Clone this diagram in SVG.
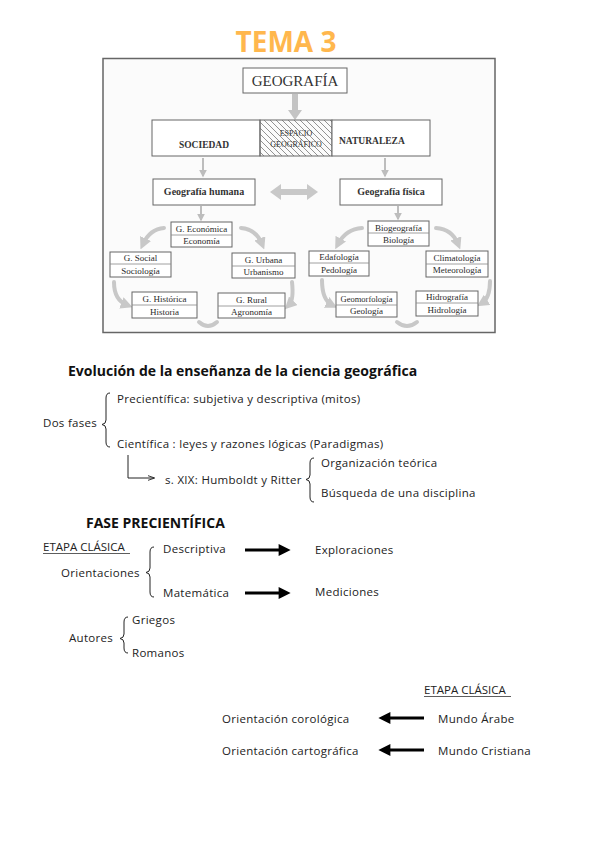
<svg xmlns="http://www.w3.org/2000/svg" width="599" height="848" viewBox="0 0 599 848">
<defs>
<style>
.t{font-family:"Open Sans","Noto Sans","DejaVu Sans",sans-serif;font-size:11.5px;letter-spacing:0.3px;fill:#222}
.tb{font-family:"Open Sans","Noto Sans","DejaVu Sans",sans-serif;font-weight:bold;fill:#111}
.s{font-family:"Liberation Serif","DejaVu Serif",serif;fill:#333}
.m{font-size:9px;fill:#2a2a2a}
.bx{fill:#fff;stroke:#666;stroke-width:1}
.dv{stroke:#888;stroke-width:0.8}
.ga{fill:none;stroke:#c8c8c8;stroke-width:4;stroke-linecap:round}
.gt{fill:none;stroke:#bdbdbd;stroke-width:2}
.br{fill:none;stroke:#222;stroke-width:1}
.ba{stroke:#000;stroke-width:3}
.u{stroke:#333;stroke-width:0.8}
</style>
<pattern id="hatch" patternUnits="userSpaceOnUse" width="6" height="6">
<path d="M0,0 L6,6 M-1,5 L1,7 M5,-1 L7,1" stroke="#777" stroke-width="0.8"/>
</pattern>
<marker id="gh" viewBox="0 0 10 10" refX="5" refY="5" markerWidth="3" markerHeight="3" orient="auto">
<path d="M0,0 L10,5 L0,10 z" fill="#c8c8c8"/>
</marker>
<marker id="gth" viewBox="0 0 10 10" refX="8" refY="5" markerWidth="4" markerHeight="4" orient="auto">
<path d="M0,0 L10,5 L0,10 z" fill="#bdbdbd"/>
</marker>
<marker id="kh" viewBox="0 0 10 10" refX="2" refY="5" markerWidth="4.5" markerHeight="4" orient="auto">
<path d="M0,0 L10,5 L0,10 z" fill="#000"/>
</marker>
<marker id="lh" viewBox="0 0 10 10" refX="9" refY="5" markerWidth="7" markerHeight="7" orient="auto" markerUnits="userSpaceOnUse">
<path d="M0,1.5 L10,5 L0,8.5" fill="none" stroke="#222" stroke-width="1.3"/>
</marker>
</defs>
<rect width="599" height="848" fill="#fff"/>

<g id="title">
<text x="286" y="52" text-anchor="middle" class="tb" style="font-size:28px;fill:#ffb74d">TEMA 3</text>
</g>

<g id="photo">
<rect x="103" y="58.5" width="392" height="274" fill="#fbfbfb" stroke="#666" stroke-width="1.5"/>
</g>

<g id="connectors">
<polygon points="292,94 298,94 298,110 302,110 295,120 288,110 292,110" fill="#c4c4c4"/>
<line x1="203" y1="158" x2="203" y2="176" class="gt" marker-end="url(#gth)"/>
<line x1="385" y1="158" x2="385" y2="176" class="gt" marker-end="url(#gth)"/>
<line x1="201" y1="206" x2="201" y2="220" class="gt" marker-end="url(#gth)"/>
<line x1="398" y1="206" x2="398" y2="219" class="gt" marker-end="url(#gth)"/>
<polygon points="270,192 281,184 281,189 307,189 307,184 318,192 307,200 307,195 281,195 281,200" fill="#c8c8c8"/>
<path d="M164,228 Q150,229 143,244" class="ga" marker-end="url(#gh)"/>
<path d="M241,228 Q256,229 262,244" class="ga" marker-end="url(#gh)"/>
<path d="M114,282 Q114,300 127,305" class="ga" marker-end="url(#gh)"/>
<path d="M292,282 Q294,300 289,305" class="ga" marker-end="url(#gh)"/>
<path d="M199,322 Q208,330 217,322" class="ga"/>
<path d="M362,228 Q346,229 338,244" class="ga" marker-end="url(#gh)"/>
<path d="M436,228 Q452,229 458,244" class="ga" marker-end="url(#gh)"/>
<path d="M322,280 Q322,300 332,305" class="ga" marker-end="url(#gh)"/>
<path d="M490,281 Q490,298 482,303" class="ga" marker-end="url(#gh)"/>
<path d="M397,322 Q407,330 417,322" class="ga"/>
<path d="M128,455 L128,478 L154,478" class="br" marker-end="url(#lh)"/>
<line x1="245" y1="550" x2="281" y2="550" class="ba" marker-end="url(#kh)"/>
<line x1="245" y1="593" x2="281" y2="593" class="ba" marker-end="url(#kh)"/>
<line x1="424" y1="718" x2="388" y2="718" class="ba" marker-end="url(#kh)"/>
<line x1="424" y1="750" x2="388" y2="750" class="ba" marker-end="url(#kh)"/>
</g>

<g id="geografia">
<rect x="243" y="68" width="104" height="25" class="bx"/>
<text x="295" y="86" text-anchor="middle" class="s" style="font-size:15px">GEOGRAFÍA</text>
</g>
<g id="sociedad">
<rect x="152" y="120" width="108" height="36" class="bx"/>
<text x="204" y="148" text-anchor="middle" class="s" style="font-size:9.5px;font-weight:bold">SOCIEDAD</text>
</g>
<g id="espacio">
<rect x="260" y="120" width="72" height="36" fill="url(#hatch)" stroke="#666" stroke-width="1"/>
<text x="296" y="136" text-anchor="middle" class="s" style="font-size:8px">ESPACIO</text>
<text x="296" y="147" text-anchor="middle" class="s" style="font-size:8px">GEOGRÁFICO</text>
</g>
<g id="naturaleza">
<rect x="332" y="120" width="98" height="36" class="bx"/>
<text x="339" y="144" class="s" style="font-size:9.5px;font-weight:bold">NATURALEZA</text>
</g>
<g id="geo-humana">
<rect x="153" y="179" width="102" height="26" class="bx"/>
<text x="204" y="195" text-anchor="middle" class="s" style="font-size:10px;font-weight:bold">Geografía humana</text>
</g>
<g id="geo-fisica">
<rect x="340" y="179" width="102" height="26" class="bx"/>
<text x="391" y="195" text-anchor="middle" class="s" style="font-size:10px;font-weight:bold">Geografía física</text>
</g>

<g id="g-economica">
<rect x="171" y="222" width="61" height="25" class="bx"/><line x1="171" y1="235" x2="232" y2="235" class="dv"/>
<text x="201.5" y="232" text-anchor="middle" class="s m">G. Económica</text>
<text x="201.5" y="244" text-anchor="middle" class="s m">Economía</text>
</g>
<g id="g-social">
<rect x="110" y="252" width="61" height="25" class="bx"/><line x1="110" y1="264" x2="171" y2="264" class="dv"/>
<text x="140.5" y="261" text-anchor="middle" class="s m">G. Social</text>
<text x="140.5" y="274" text-anchor="middle" class="s m">Sociología</text>
</g>
<g id="g-urbana">
<rect x="232" y="253" width="63" height="25" class="bx"/><line x1="232" y1="266" x2="295" y2="266" class="dv"/>
<text x="263.5" y="263" text-anchor="middle" class="s m">G. Urbana</text>
<text x="263.5" y="275" text-anchor="middle" class="s m">Urbanismo</text>
</g>
<g id="g-historica">
<rect x="132" y="292" width="65" height="26" class="bx"/><line x1="132" y1="305" x2="197" y2="305" class="dv"/>
<text x="164.5" y="302" text-anchor="middle" class="s m">G. Histórica</text>
<text x="164.5" y="315" text-anchor="middle" class="s m">Historia</text>
</g>
<g id="g-rural">
<rect x="218" y="293" width="67" height="25" class="bx"/><line x1="218" y1="306" x2="285" y2="306" class="dv"/>
<text x="251.5" y="303" text-anchor="middle" class="s m">G. Rural</text>
<text x="251.5" y="315" text-anchor="middle" class="s m">Agronomía</text>
</g>

<g id="biogeografia">
<rect x="368" y="221" width="61" height="25" class="bx"/><line x1="368" y1="233" x2="429" y2="233" class="dv"/>
<text x="398.5" y="231" text-anchor="middle" class="s m">Biogeografía</text>
<text x="398.5" y="243" text-anchor="middle" class="s m">Biología</text>
</g>
<g id="edafologia">
<rect x="309" y="251" width="60" height="25" class="bx"/><line x1="309" y1="263" x2="369" y2="263" class="dv"/>
<text x="339" y="260" text-anchor="middle" class="s m">Edafología</text>
<text x="339" y="273" text-anchor="middle" class="s m">Pedología</text>
</g>
<g id="climatologia">
<rect x="426" y="251" width="62" height="26" class="bx"/><line x1="426" y1="264" x2="488" y2="264" class="dv"/>
<text x="457" y="261" text-anchor="middle" class="s m">Climatología</text>
<text x="457" y="273" text-anchor="middle" class="s m">Meteorología</text>
</g>
<g id="geomorfologia">
<rect x="336" y="292" width="61" height="25" class="bx"/><line x1="336" y1="305" x2="397" y2="305" class="dv"/>
<text x="366.5" y="302" text-anchor="middle" class="s m" style="font-size:8.5px">Geomorfología</text>
<text x="366.5" y="314" text-anchor="middle" class="s m">Geología</text>
</g>
<g id="hidrografia">
<rect x="416" y="291" width="62" height="25" class="bx"/><line x1="416" y1="303" x2="478" y2="303" class="dv"/>
<text x="447" y="300" text-anchor="middle" class="s m">Hidrografía</text>
<text x="447" y="313" text-anchor="middle" class="s m">Hidrología</text>
</g>

<g id="evolucion">
<text x="68" y="376" class="tb" style="font-size:14px">Evolución de la enseñanza de la ciencia geográfica</text>
<text x="43" y="427" class="t">Dos fases</text>
<path d="M110,393 Q106,393 106,398 L106,420 Q106,424 102,424.5 Q106,425 106,429 L106,442 Q106,447 110,447" class="br"/>
<text x="117" y="403" class="t">Precientífica: subjetiva y descriptiva (mitos)</text>
<text x="117" y="448" class="t">Científica : leyes y razones lógicas (Paradigmas)</text>
<text x="165" y="484" class="t">s. XIX: Humboldt y Ritter</text>
<path d="M314,458 Q310,458 310,463 L310,475 Q310,479 306,479.5 Q310,480 310,484 L310,497 Q310,502 314,502" class="br"/>
<text x="321" y="467" class="t">Organización teórica</text>
<text x="321" y="497" class="t">Búsqueda de una disciplina</text>
</g>

<g id="fase">
<text x="86" y="528" class="tb" style="font-size:14px">FASE PRECIENTÍFICA</text>
<text x="43" y="551" class="t" style="font-size:11.5px;letter-spacing:0">ETAPA CLÁSICA</text>
<line x1="43" y1="553.5" x2="130" y2="553.5" class="u"/>
<text x="61" y="577" class="t">Orientaciones</text>
<path d="M154,547 Q150,547 150,552 L150,568 Q150,572 146,572.5 Q150,573 150,577 L150,592 Q150,597 154,597" class="br"/>
<text x="163" y="553" class="t">Descriptiva</text>
<text x="315" y="554" class="t">Exploraciones</text>
<text x="163" y="597" class="t">Matemática</text>
<text x="315" y="596" class="t">Mediciones</text>
<text x="69" y="642" class="t">Autores</text>
<path d="M128,617 Q124,617 124,622 L124,634 Q124,638 120,638.5 Q124,639 124,643 L124,648 Q124,653 128,653" class="br"/>
<text x="132" y="624" class="t">Griegos</text>
<text x="132" y="657" class="t">Romanos</text>
</g>

<g id="etapa2">
<text x="424" y="694" class="t" style="font-size:11.5px;letter-spacing:0">ETAPA CLÁSICA</text>
<line x1="424" y1="696.5" x2="511" y2="696.5" class="u"/>
<text x="222" y="723" class="t">Orientación corológica</text>
<text x="438" y="723" class="t">Mundo Árabe</text>
<text x="222" y="755" class="t">Orientación cartográfica</text>
<text x="438" y="755" class="t">Mundo Cristiana</text>
</g>
</svg>
